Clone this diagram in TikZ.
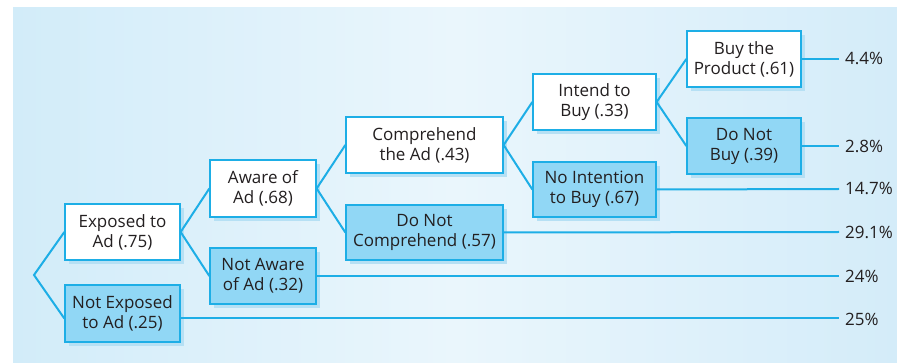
\documentclass[tikz,border=0pt]{standalone}
\usepackage{fontspec}
\setmainfont{Open Sans}
\usetikzlibrary{shadows,calc}
\definecolor{bgL}{HTML}{D2ECF9}
\definecolor{bgM}{HTML}{EAF6FC}
\definecolor{bgR}{HTML}{D4ECF9}
\definecolor{edge}{HTML}{1DAEE6}
\definecolor{boxfill}{HTML}{91D7F5}
\definecolor{shad}{HTML}{B6E0F4}
\definecolor{ink}{HTML}{231F20}
\tikzset{
  base/.style={draw=edge, line width=1.3pt, align=center, inner sep=0pt,
    text=ink, font=\fontsize{17}{20}\selectfont,
    general shadow={fill=shad, shadow xshift=4pt, shadow yshift=-4pt}},
  yesbox/.style={base, fill=white},
  nobox/.style={base, fill=boxfill},
  link/.style={draw=edge, line width=2pt},
  pct/.style={anchor=west, inner sep=0pt, text=ink, font=\fontsize{17}{20}\selectfont}
}
\begin{document}
\begin{tikzpicture}[x=1pt,y=-1pt]
\useasboundingbox (0,0) rectangle (897,363);
\fill[white] (0,0) rectangle (897,363);
\shade[left color=bgL, right color=bgR, middle color=bgM] (13,8) rectangle (897,363);

\node[yesbox, minimum width=115pt, minimum height=56pt] (exp) at (122.5,232) {Exposed to\\Ad (.75)};
\node[nobox, minimum width=115pt, minimum height=57pt] (notexp) at (122.5,313.5) {Not Exposed\\to Ad (.25)};
\node[yesbox, minimum width=106pt, minimum height=57pt] (aware) at (263,188.5) {Aware of\\Ad (.68)};
\node[nobox, minimum width=106pt, minimum height=56pt] (notaware) at (263,276) {Not Aware\\of Ad (.32)};
\node[yesbox, minimum width=157pt, minimum height=56pt] (comp) at (424.5,145) {Comprehend\\the Ad (.43)};
\node[nobox, minimum width=157pt, minimum height=55pt] (notcomp) at (424.5,232.5) {Do Not\\Comprehend (.57)};
\node[yesbox, minimum width=123pt, minimum height=56pt] (intend) at (594.5,102) {Intend to\\Buy (.33)};
\node[nobox, minimum width=123pt, minimum height=55pt] (nointend) at (594.5,189.5) {No Intention\\to Buy (.67)};
\node[yesbox, minimum width=114pt, minimum height=56pt] (buy) at (744,59) {Buy the\\Product (.61)};
\node[nobox, minimum width=114pt, minimum height=56pt] (notbuy) at (744,146) {Do Not\\Buy (.39)};

\coordinate (root) at (34,275);
\coordinate (l1) at (839,59);
\coordinate (l2) at (839,146);
\coordinate (l3) at (839,189);
\coordinate (l4) at (839,232);
\coordinate (l5) at (839,276);
\coordinate (l6) at (839,318.5);

\draw[link] ($(notexp.west)+(0,5)$) -- (root) -- (exp.west);
\draw[link] (aware.west) -- (exp.east) -- (notaware.west);
\draw[link] (comp.west) -- (aware.east) -- (notcomp.west);
\draw[link] (intend.west) -- (comp.east) -- (nointend.west);
\draw[link] (buy.west) -- (intend.east) -- (notbuy.west);

\draw[link] (buy.east) -- (l1);
\draw[link] (notbuy.east) -- (l2);
\draw[link] (nointend.east) -- (l3);
\draw[link] (notcomp.east) -- (l4);
\draw[link] (notaware.east) -- (l5);
\draw[link] ($(notexp.east)+(0,5)$) -- (l6);

\node[pct] (p1) at (845,58) {4.4\%};
\node[pct] (p2) at (845,146) {2.8\%};
\node[pct] (p3) at (845,188) {14.7\%};
\node[pct] (p4) at (845,232) {29.1\%};
\node[pct] (p5) at (845,276) {24\%};
\node[pct] (p6) at (845,319) {25\%};
\end{tikzpicture}
\end{document}
